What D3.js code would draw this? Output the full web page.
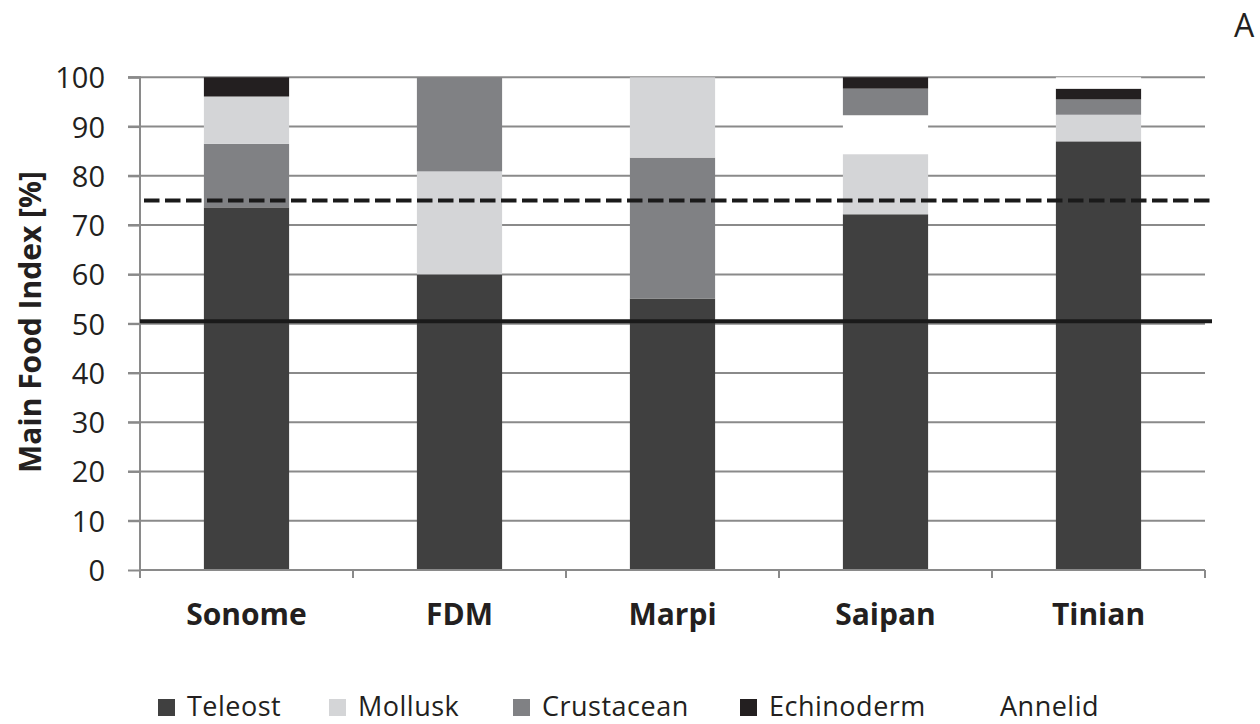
<!DOCTYPE html>
<html>
<head>
<meta charset="utf-8">
<script src="https://cdn.jsdelivr.net/npm/d3@7"></script>
<style>
  html, body { margin: 0; padding: 0; background: #fff; }
  svg { display: block; }
  text { font-family: "Open Sans", sans-serif; fill: #231f20; }
</style>
</head>
<body>
<svg id="chart" width="1260" height="724"></svg>
<script>
// ---- data ----
const sites = ["Sonome", "FDM", "Marpi", "Saipan", "Tinian"];
const seriesNames = ["Teleost", "Mollusk", "Crustacean", "Echinoderm", "Annelid"];
const teleost    = [73.6, 60.0, 55.1, 72.2, 87.0];
const mollusk    = [9.6, 20.9, 16.3, 12.2, 5.4];
const crustacean = [12.9, 19.1, 28.6, 5.4, 3.1];
const echinoderm = [3.9, 0, 0, 2.3, 2.2];
const annelid    = [0, 0, 0, 7.9, 2.3];
// stacking order (bottom to top) as drawn in each bar
const stackOrder = [
  ["Teleost", "Crustacean", "Mollusk", "Echinoderm", "Annelid"],
  ["Teleost", "Mollusk", "Crustacean", "Echinoderm", "Annelid"],
  ["Teleost", "Crustacean", "Mollusk", "Echinoderm", "Annelid"],
  ["Teleost", "Mollusk", "Annelid", "Crustacean", "Echinoderm"],
  ["Teleost", "Mollusk", "Crustacean", "Echinoderm", "Annelid"]
];
const yTicks = [0, 10, 20, 30, 40, 50, 60, 70, 80, 90, 100];
const dashedRef = 75;
const solidRef = 50.5;

const values = { Teleost: teleost, Mollusk: mollusk, Crustacean: crustacean, Echinoderm: echinoderm, Annelid: annelid };
const colors = { Teleost: "#404040", Mollusk: "#d4d5d7", Crustacean: "#808184", Echinoderm: "#231f20", Annelid: "#ffffff" };

// ---- layout ----
const svg = d3.select("#chart");
const pL = 140, pR = 1205, pT = 77.3, pB = 570;
const x = d3.scaleBand().domain(sites).range([pL, pR]).paddingInner(0.6).paddingOuter(0.3);
const y = d3.scaleLinear().domain([0, 100]).range([pB, pT]);
const gridColor = "#8a8a8a";

// gridlines
svg.append("g").selectAll("line").data(yTicks.filter(d => d > 0)).join("line")
  .attr("x1", pL - 12).attr("x2", pR)
  .attr("y1", d => y(d)).attr("y2", d => y(d))
  .attr("stroke", gridColor).attr("stroke-width", 2);

// segments
const segs = [];
sites.forEach((s, i) => {
  let acc = 0;
  stackOrder[i].forEach(name => {
    const v = values[name][i];
    if (v > 0) { segs.push({ site: s, name, y0: acc, y1: acc + v }); acc += v; }
  });
});
svg.append("g").selectAll("rect").data(segs).join("rect")
  .attr("x", d => x(d.site)).attr("width", x.bandwidth())
  .attr("y", d => y(d.y1)).attr("height", d => y(d.y0) - y(d.y1))
  .attr("fill", d => colors[d.name]);

// y axis
const yAxis = d3.axisLeft(y).tickValues(yTicks).tickSize(12).tickPadding(23).tickFormat(d3.format("d"));
const gy = svg.append("g").attr("transform", `translate(${pL},0)`).call(yAxis);
gy.select(".domain").attr("stroke", gridColor).attr("stroke-width", 2).attr("d", `M-12,${pT}H0V${pB + 8}`);
gy.selectAll(".tick line").attr("stroke", gridColor).attr("stroke-width", 2);
gy.selectAll(".tick text").attr("font-size", 29).attr("fill", "#231f20").attr("font-family", "Open Sans").attr("dy", "0.36em");

// x axis line and boundary ticks
svg.append("line").attr("x1", pL).attr("x2", pR).attr("y1", pB).attr("y2", pB)
  .attr("stroke", gridColor).attr("stroke-width", 2);
const bounds = sites.map(s => x(s) - x.step() * 0.3).concat([pR]);
svg.append("g").selectAll("line").data(bounds).join("line")
  .attr("x1", d => d).attr("x2", d => d).attr("y1", pB).attr("y2", pB + 8)
  .attr("stroke", gridColor).attr("stroke-width", 2);

// category labels
svg.append("g").selectAll("text").data(sites).join("text")
  .attr("x", d => x(d) + x.bandwidth() / 2).attr("y", 625)
  .attr("text-anchor", "middle").attr("font-size", 30).attr("font-weight", "bold")
  .text(d => d);

// reference lines
svg.append("line").attr("x1", pL).attr("x2", 1212).attr("y1", y(solidRef)).attr("y2", y(solidRef))
  .attr("stroke", "#1a1a1a").attr("stroke-width", 4);
svg.append("line").attr("x1", pL + 4).attr("x2", 1212).attr("y1", y(dashedRef)).attr("y2", y(dashedRef))
  .attr("stroke", "#1a1a1a").attr("stroke-width", 4).attr("stroke-dasharray", "15.5,5.5");

// y axis title
svg.append("text").attr("transform", "translate(41,322) rotate(-90)")
  .attr("text-anchor", "middle").attr("font-size", 30).attr("font-weight", "bold")
  .text("Main Food Index [%]");

// panel letter
svg.append("text").attr("x", 1244).attr("y", 37).attr("text-anchor", "middle")
  .attr("font-size", 32).text("A");

// legend
const legendX = [158, 329, 513, 740, 971];
const lg = svg.append("g").selectAll("g").data(seriesNames).join("g")
  .attr("transform", (d, i) => `translate(${legendX[i]},699)`);
lg.append("rect").attr("width", 17).attr("height", 17).attr("fill", d => colors[d]);
lg.append("text").attr("x", 29).attr("y", 17).attr("font-size", 27)
  .attr("letter-spacing", 0.5).text(d => d);
</script>
</body>
</html>
